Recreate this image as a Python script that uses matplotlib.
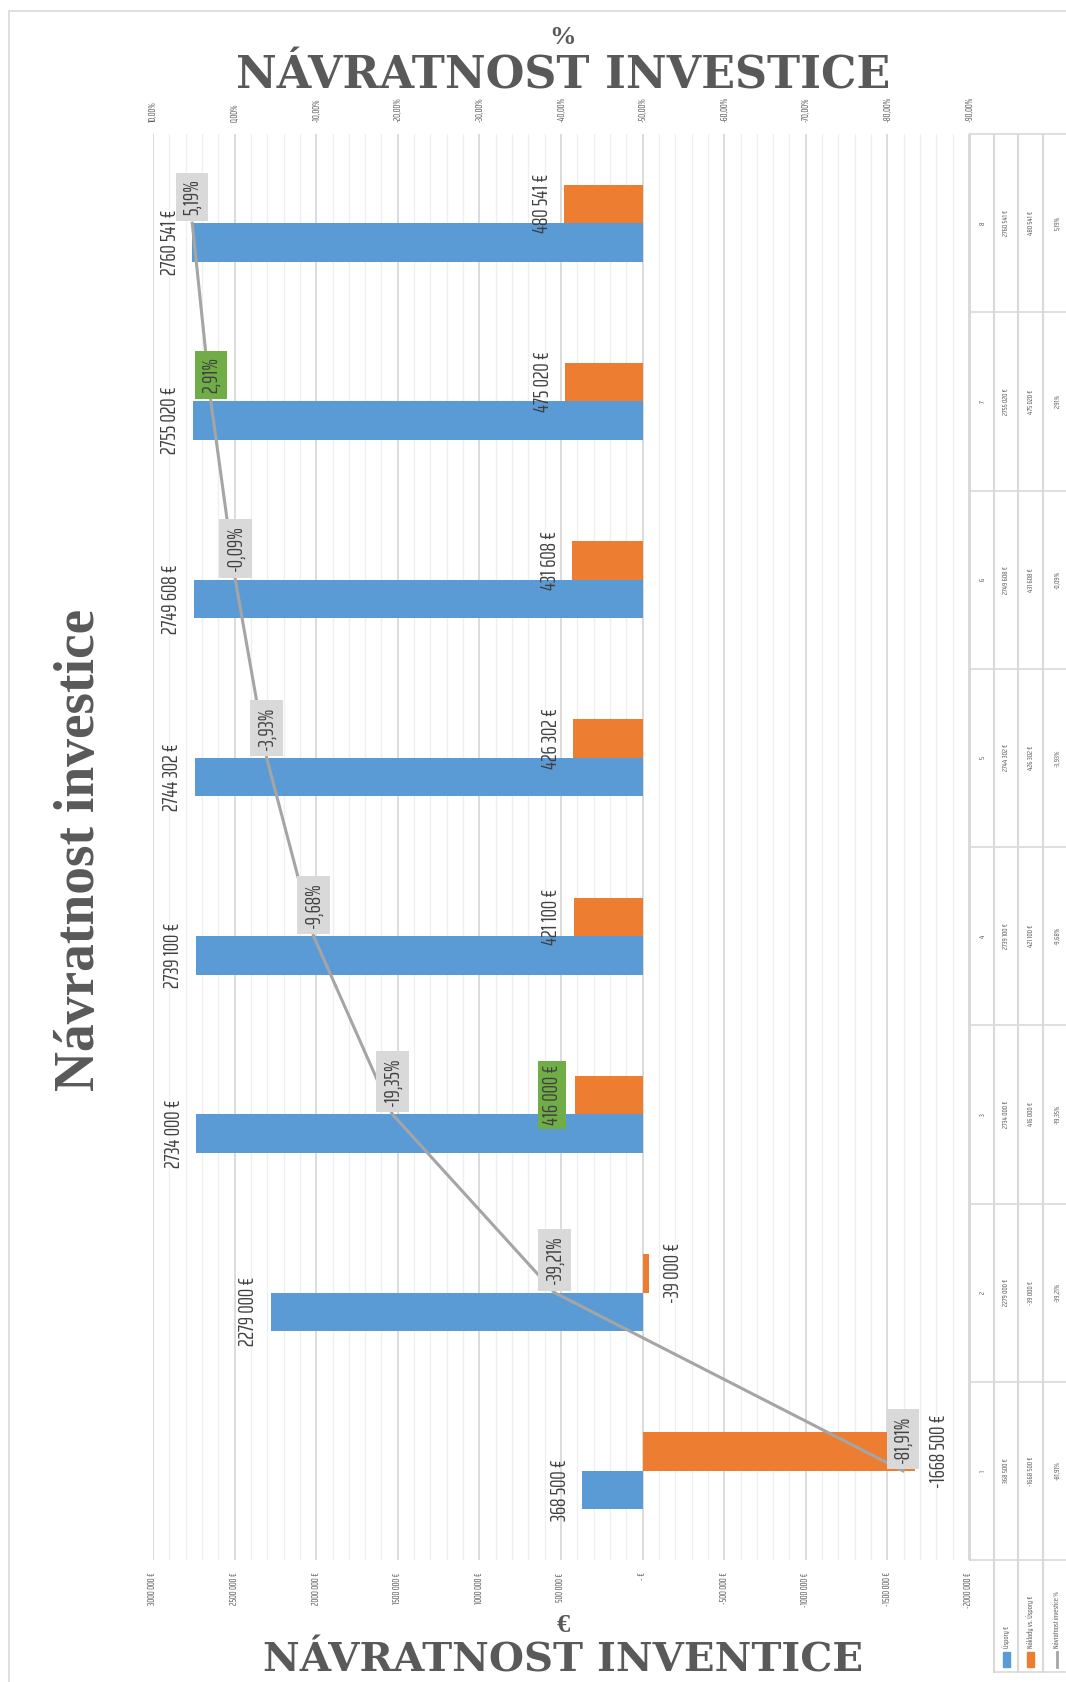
import numpy as np
import matplotlib.pyplot as plt
from matplotlib.lines import Line2D
from matplotlib.patches import Rectangle
from matplotlib.ticker import MultipleLocator

# data
categories = [1, 2, 3, 4, 5, 6, 7, 8]
uspory = [368500, 2279000, 2734000, 2739100, 2744302, 2749608, 2755020, 2760541]
naklady = [-1668500, -39000, 416000, 421100, 426302, 431608, 475020, 480541]
navratnost = [-81.91, -39.21, -19.35, -9.68, -3.93, -0.09, 2.91, 5.19]
eur_ticks = [3000000, 2500000, 2000000, 1500000, 1000000, 500000, 0,
             -500000, -1000000, -1500000, -2000000]
pct_ticks = [10, 0, -10, -20, -30, -40, -50, -60, -70, -80, -90]
series_names = ['Úspory €', 'Náklady vs. Úspory €', 'Návratnost investice %']

BLUE = '#5b9bd5'
ORANGE = '#ed7d31'
LINE = '#a5a5a5'
GREEN = '#70ad47'
TXT = '#404040'
NARROW = ['Saira ExtraCondensed', 'DejaVu Sans']


def eur(v):
    if v == 0:
        return '- €'
    s = '-' if v < 0 else ''
    v = abs(int(v))
    if v >= 1000:
        return f"{s}{v // 1000} {v % 1000:03d} €"
    return f"{s}{v} €"


def pct(v, d=2):
    return f"{v:.{d}f}%".replace('.', ',')


W, H = 1066, 1682
fig = plt.figure(figsize=(W / 100, H / 100), dpi=100)


def fx(x):
    return x / W


def fy(y):
    return 1 - y / H


ax = fig.add_axes([fx(153), fy(1560), (969 - 153) / W, (1560 - 134) / H])
ax.set_xlim(3000000, -2000000)
ax.set_ylim(0.5, 8.5)

y = np.array(categories, dtype=float)
bh = 0.216
ax.barh(y - bh / 2, uspory, height=bh, color=BLUE, zorder=3)
ax.barh(y + bh / 2, naklady, height=bh, color=ORANGE, zorder=3)

ax.set_xticks(eur_ticks)
ax.set_xticklabels([eur(v) for v in eur_ticks], rotation=90, fontsize=7,
                   color='#595959', family=NARROW)
ax.xaxis.set_minor_locator(MultipleLocator(100000))
ax.grid(axis='x', which='major', color='#d9d9d9', lw=1.3, zorder=0)
ax.grid(axis='x', which='minor', color='#efefef', lw=0.9, zorder=0)
ax.tick_params(axis='x', which='both', length=0, pad=9)
ax.set_yticks([])
for s in ax.spines.values():
    s.set_visible(False)

# labels on bars
for yi, v in zip(y, uspory):
    ax.annotate(eur(v), (v, yi - bh / 2), xytext=(-9, 0), textcoords='offset points',
                ha='right', va='center', rotation=90, fontsize=15, color=TXT,
                family=NARROW, zorder=5)
for i, (yi, v) in enumerate(zip(y, naklady)):
    off, ha = (-9, 'right') if v > 0 else (10, 'left')
    box = dict(boxstyle='square,pad=0.2', fc=GREEN, ec='none') if i == 2 else None
    ax.annotate(eur(v), (v, yi + bh / 2), xytext=(off, 0), textcoords='offset points',
                ha=ha, va='center', rotation=90, fontsize=15, color=TXT,
                family=NARROW, bbox=box, zorder=5)

ax2 = ax.twiny()
ax2.set_xlim(10, -90)
ax2.plot(navratnost, y, color=LINE, lw=2.2, zorder=4)
ax2.set_xticks(pct_ticks)
ax2.set_xticklabels([pct(v) for v in pct_ticks], rotation=90, fontsize=7,
                    color='#595959', family=NARROW)
ax2.tick_params(axis='x', length=0, pad=9)
for s in ax2.spines.values():
    s.set_visible(False)
for i, (yi, v) in enumerate(zip(y, navratnost)):
    fc = GREEN if i == 6 else '#d9d9d9'
    ax2.annotate(pct(v), (v, yi), xytext=(0, 6), textcoords='offset points',
                 ha='center', va='bottom', rotation=90, fontsize=15, color=TXT,
                 family=NARROW, zorder=6,
                 bbox=dict(boxstyle='square,pad=0.3', fc=fc, ec='none'))

# titles
fig.text(fx(80), fy(850), 'Návratnost investice', rotation=90, ha='center',
         va='center', fontsize=40, fontweight='bold', family='Liberation Serif',
         color='#595959')
fig.text(fx(562), fy(38), '%', ha='center', va='center', fontsize=19,
         fontweight='bold', family='Liberation Serif', color='#595959')
fig.text(fx(563), fy(76), 'NÁVRATNOST INVESTICE', ha='center', va='center',
         fontsize=32, fontweight='bold', family='DejaVu Serif', color='#595959')
fig.text(fx(563), fy(1626), '€', ha='center', va='center', fontsize=19,
         fontweight='bold', family='Liberation Serif', color='#595959')
fig.text(fx(563), fy(1661), 'NÁVRATNOST INVENTICE', ha='center', va='center',
         fontsize=29, fontweight='bold', family='DejaVu Serif', color='#595959')

# data table on the right
gc = '#d9d9d9'
cols = [970, 994, 1018, 1043, 1070]
bounds = [134 + (1560 - 134) * k / 8 for k in range(9)]
for cx in cols[:4]:
    top = 1560 if cx == 970 else 1672
    fig.add_artist(Line2D([fx(cx), fx(cx)], [fy(134), fy(top)], color=gc, lw=1.5))
for by in bounds:
    fig.add_artist(Line2D([fx(970), fx(1066)], [fy(by), fy(by)], color=gc, lw=1.2))
fig.add_artist(Line2D([fx(994), fx(1066)], [fy(1672), fy(1672)], color=gc, lw=1.2))

rows = [[str(c) for c in categories], [eur(v) for v in uspory],
        [eur(v) for v in naklady], [pct(v) for v in navratnost]]
for r, vals in enumerate(rows):
    cx = (cols[r] + cols[r + 1]) / 2
    for k, txt in enumerate(vals):
        cy = (bounds[8 - k] + bounds[7 - k]) / 2
        fig.text(fx(cx), fy(cy), txt, rotation=90, ha='center', va='center',
                 fontsize=6, color='#595959', family=NARROW)

# legend cells under the table
keys = [BLUE, ORANGE, None]
for r, name in enumerate(series_names):
    cx = (cols[r + 1] + cols[r + 2]) / 2
    if keys[r] is not None:
        fig.add_artist(Rectangle((fx(cx - 3.5), fy(1667)), 7 / W, 15 / H,
                                 color=keys[r], transform=fig.transFigure))
    else:
        fig.add_artist(Line2D([fx(cx), fx(cx)], [fy(1667), fy(1652)], color=LINE, lw=2))
    fig.text(fx(cx), fy(1648), name, rotation=90, ha='center', va='bottom',
             fontsize=6, color='#595959', family=NARROW)

# chart border
fig.add_artist(Rectangle((fx(9), fy(1690)), (1080 - 9) / W, (1690 - 11) / H,
                         fill=False, ec=gc, lw=1.2, transform=fig.transFigure))

fig.savefig('out.png', dpi=100)
